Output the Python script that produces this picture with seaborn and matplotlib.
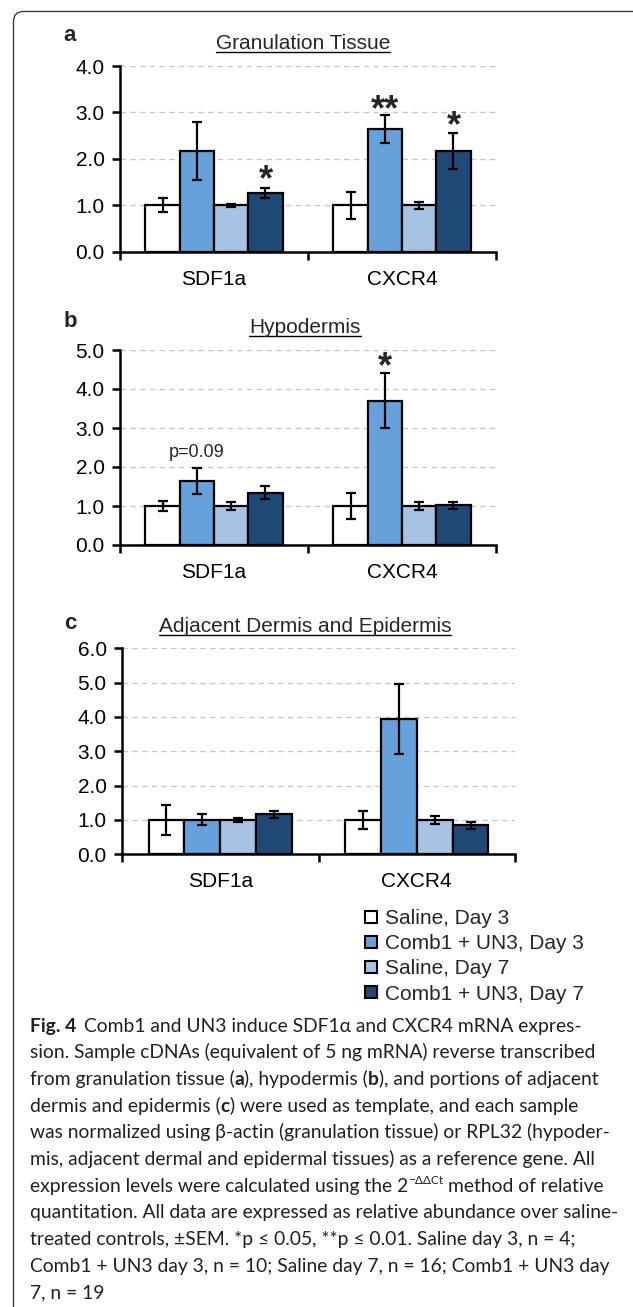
import numpy as np
import pandas as pd
import matplotlib
matplotlib.use("Agg")
import matplotlib.pyplot as plt
import seaborn as sns
from matplotlib.lines import Line2D
from matplotlib.patches import FancyBboxPatch
from matplotlib.transforms import IdentityTransform

# ---------------- data ----------------
categories = ["SDF1a", "CXCR4"]
groups = ["Saline, Day 3", "Comb1 + UN3, Day 3", "Saline, Day 7", "Comb1 + UN3, Day 7"]
colors = ["#ffffff", "#66a1dc", "#a7c3e3", "#1f4a77"]

# panel a: Granulation Tissue
a_sdf1a = [1.00, 2.17, 1.00, 1.27]
a_sdf1a_sem = [0.15, 0.63, 0.03, 0.11]
a_cxcr4 = [1.00, 2.64, 1.00, 2.17]
a_cxcr4_sem = [0.29, 0.30, 0.07, 0.39]

# panel b: Hypodermis
b_sdf1a = [1.00, 1.64, 1.00, 1.34]
b_sdf1a_sem = [0.13, 0.34, 0.09, 0.17]
b_cxcr4 = [1.00, 3.70, 1.00, 1.02]
b_cxcr4_sem = [0.34, 0.70, 0.09, 0.09]

# panel c: Adjacent Dermis and Epidermis
c_sdf1a = [1.00, 1.00, 1.00, 1.16]
c_sdf1a_sem = [0.45, 0.16, 0.05, 0.11]
c_cxcr4 = [1.00, 3.94, 1.00, 0.84]
c_cxcr4_sem = [0.25, 1.02, 0.11, 0.10]

titles = ["Granulation Tissue", "Hypodermis", "Adjacent Dermis and Epidermis"]
letters = ["a", "b", "c"]
ymaxes = [4, 5, 6]

# significance annotations: (panel, category index, group index, text, y centre)
annotations = [
    (0, 0, 3, "*", 1.69),
    (0, 1, 1, "**", 3.20),
    (0, 1, 3, "*", 2.84),
    (1, 1, 1, "*", 4.74),
    (1, 0, 1, "p=0.09", 2.37),
]

caption_lines = [
    [("Fig. 4", "bold"), ("Comb1 and UN3 induce SDF1\u03b1 and CXCR4 mRNA expres-", "gap")],
    [("sion. Sample cDNAs (equivalent of 5 ng mRNA) reverse transcribed", "n")],
    [("from granulation tissue (", "n"), ("a", "bold"), ("), hypodermis (", "n"), ("b", "bold"),
     ("), and portions of adjacent", "n")],
    [("dermis and epidermis (", "n"), ("c", "bold"), (") were used as template, and each sample", "n")],
    [("was normalized using \u03b2-actin (granulation tissue) or RPL32 (hypoder-", "n")],
    [("mis, adjacent dermal and epidermal tissues) as a reference gene. All", "n")],
    [("expression levels were calculated using the 2", "n"), ("\u2212\u0394\u0394Ct", "sup"),
     ("method of relative", "space")],
    [("quantitation. All data are expressed as relative abundance over saline-", "n")],
    [("treated controls, \u00b1SEM. *p \u2264 0.05, **p \u2264 0.01. Saline day 3, n = 4;", "n")],
    [("Comb1 + UN3 day 3, n = 10; Saline day 7, n = 16; Comb1 + UN3 day", "n")],
    [("7, n = 19", "n")],
]

# ---------------- layout ----------------
W, H = 633, 1307
sns.set_theme(style="white")
plt.rcParams['font.family'] = ['Liberation Sans', 'DejaVu Sans']
fig = plt.figure(figsize=(W / 100, H / 100), dpi=100)
fig.patch.set_facecolor("white")

def fx(x):
    return x / W

def fy(y):
    return 1 - y / H

# axes boxes in pixels: left, top, right, bottom
boxes = [(120, 66, 496, 251.7), (120, 350, 496, 545), (122, 648.3, 515, 854.3)]
letter_pos = [(63, 40.7), (64, 326.7), (64, 629)]
title_pos = [(303, 49.3), (305, 333.3), (305, 632)]

means = [(a_sdf1a, a_cxcr4), (b_sdf1a, b_cxcr4), (c_sdf1a, c_cxcr4)]
sems = [(a_sdf1a_sem, a_cxcr4_sem), (b_sdf1a_sem, b_cxcr4_sem), (c_sdf1a_sem, c_cxcr4_sem)]

FS = 15
axes = []
for i in range(3):
    l, t, r, b = boxes[i]
    ax = fig.add_axes([fx(l), fy(b), (r - l) / W, (b - t) / H])
    axes.append(ax)
    df = pd.DataFrame({
        "gene": np.repeat(categories, len(groups)),
        "group": groups * len(categories),
        "value": list(means[i][0]) + list(means[i][1]),
    })
    sns.barplot(data=df, x="gene", y="value", hue="group", order=categories,
                hue_order=groups, palette=colors, saturation=1, width=0.73, gap=0,
                errorbar=None, edgecolor="black", linewidth=1.6, legend=False,
                ax=ax, zorder=2)
    conts = list(ax.containers)
    for h, cont in enumerate(conts):
        xs = [bar.get_x() + bar.get_width() / 2 for bar in cont]
        ys = [bar.get_height() for bar in cont]
        es = [sems[i][c][h] for c in range(len(categories))]
        ax.errorbar(xs, ys, yerr=es, fmt="none", ecolor="black", elinewidth=1.6,
                    capsize=3.5, capthick=1.6, zorder=4)
    ax.set_xlim(-0.5, 1.5)
    ax.set_ylim(0, ymaxes[i])
    ax.set_yticks(np.arange(0, ymaxes[i] + 1, 1))
    ax.set_yticklabels([f"{v:.1f}" for v in np.arange(0, ymaxes[i] + 1, 1)])
    ax.set_xticks([-0.5, 0.5, 1.5])
    ax.set_xticklabels([])
    ax.set_xticks([0, 1], minor=True)
    ax.set_xticklabels(categories, minor=True)
    ax.tick_params(axis="x", which="major", direction="out", length=6, width=1.8,
                   color="black", bottom=True)
    ax.tick_params(axis="x", which="minor", length=0, pad=13, labelsize=FS,
                   labelcolor="black", bottom=True)
    ax.tick_params(axis="y", direction="out", length=6, width=1.8, color="black",
                   pad=5, labelsize=FS, labelcolor="black", left=True)
    ax.set_xlabel("")
    ax.set_ylabel("")
    ax.set_axisbelow(True)
    ax.yaxis.grid(True, linestyle=(0, (4, 3)), color="#c8c8c8", linewidth=1.0)
    ax.xaxis.grid(False)
    for s in ["top", "right"]:
        ax.spines[s].set_visible(False)
    for s in ["left", "bottom"]:
        ax.spines[s].set_linewidth(1.8)
        ax.spines[s].set_color("black")
    ax.set_facecolor("none")

    fig.text(fx(letter_pos[i][0]), fy(letter_pos[i][1]), letters[i], fontsize=16,
             fontweight="bold", ha="left", va="baseline")
    fig.text(fx(title_pos[i][0]), fy(title_pos[i][1]), titles[i], fontsize=FS,
             ha="center", va="baseline")

# significance marks
for (p, c, h, txt, yc) in annotations:
    ax = axes[p]
    bar = ax.containers[h][c]
    xc = bar.get_x() + bar.get_width() / 2
    if txt.startswith("*"):
        fs = 26
        ax.annotate(txt, (xc, yc), xytext=(0, -0.46 * fs), textcoords="offset points",
                    ha="center", va="baseline", fontsize=fs, fontweight="bold")
    else:
        ax.annotate(txt, (xc, yc), ha="center", va="center", fontsize=13)

# legend
handles = [Line2D([], [], marker="s", linestyle="none", markersize=8.5,
                  markerfacecolor=col, markeredgecolor="black", markeredgewidth=1.5)
           for col in colors]
fig.legend(handles, groups, loc="upper left", bbox_to_anchor=(fx(364.5), fy(909)),
           frameon=False, fontsize=FS, handlelength=0.6, handletextpad=0.4,
           labelspacing=0.30, borderpad=0, borderaxespad=0)

# border
border = FancyBboxPatch((13.5, -40), W + 60, (H - 11.5) + 40,
                        boxstyle="round,pad=0,rounding_size=10",
                        transform=IdentityTransform(), facecolor="none",
                        edgecolor="#3a3a3a", linewidth=1.0)
fig.patches.append(border)

# underline titles and caption
fig.canvas.draw()
renderer = fig.canvas.get_renderer()
for t in fig.texts:
    if t.get_text() in titles:
        bb = t.get_window_extent(renderer)
        yb = H - (title_pos[titles.index(t.get_text())][1] + 2.5)
        fig.lines.append(Line2D([bb.x0 / W, bb.x1 / W], [yb / H, yb / H],
                                transform=fig.transFigure, color="black", linewidth=1.0))

cap_family = ["Lato", "DejaVu Sans"]

def width_of(txt, fs, weight="normal"):
    tt = fig.text(0, 0, txt, fontsize=fs, family=cap_family, fontweight=weight)
    w = tt.get_window_extent(renderer).width
    tt.remove()
    return w

ref_line = caption_lines[7][0][0]
cfs = 10 * 590 / width_of(ref_line, 10)
space_w = width_of("x x", cfs) - width_of("xx", cfs)

x0 = 30
base0 = 1031.7
step = 26.67
for li, segs in enumerate(caption_lines):
    x = x0
    yb = base0 + li * step
    for txt, kind in segs:
        fs = cfs
        weight = "normal"
        yy = yb
        if kind == "bold":
            weight = "bold"
        elif kind == "gap":
            x += space_w * 1.6
        elif kind == "space":
            x += space_w
        elif kind == "sup":
            fs = cfs * 0.62
            yy = yb - cfs * 1.389 * 0.42
        tt = fig.text(fx(x), fy(yy), txt, fontsize=fs, family=cap_family,
                      fontweight=weight, ha="left", va="baseline", color="#231f20")
        x += tt.get_window_extent(renderer).width

fig.savefig("out.png", dpi=100, facecolor="white")
